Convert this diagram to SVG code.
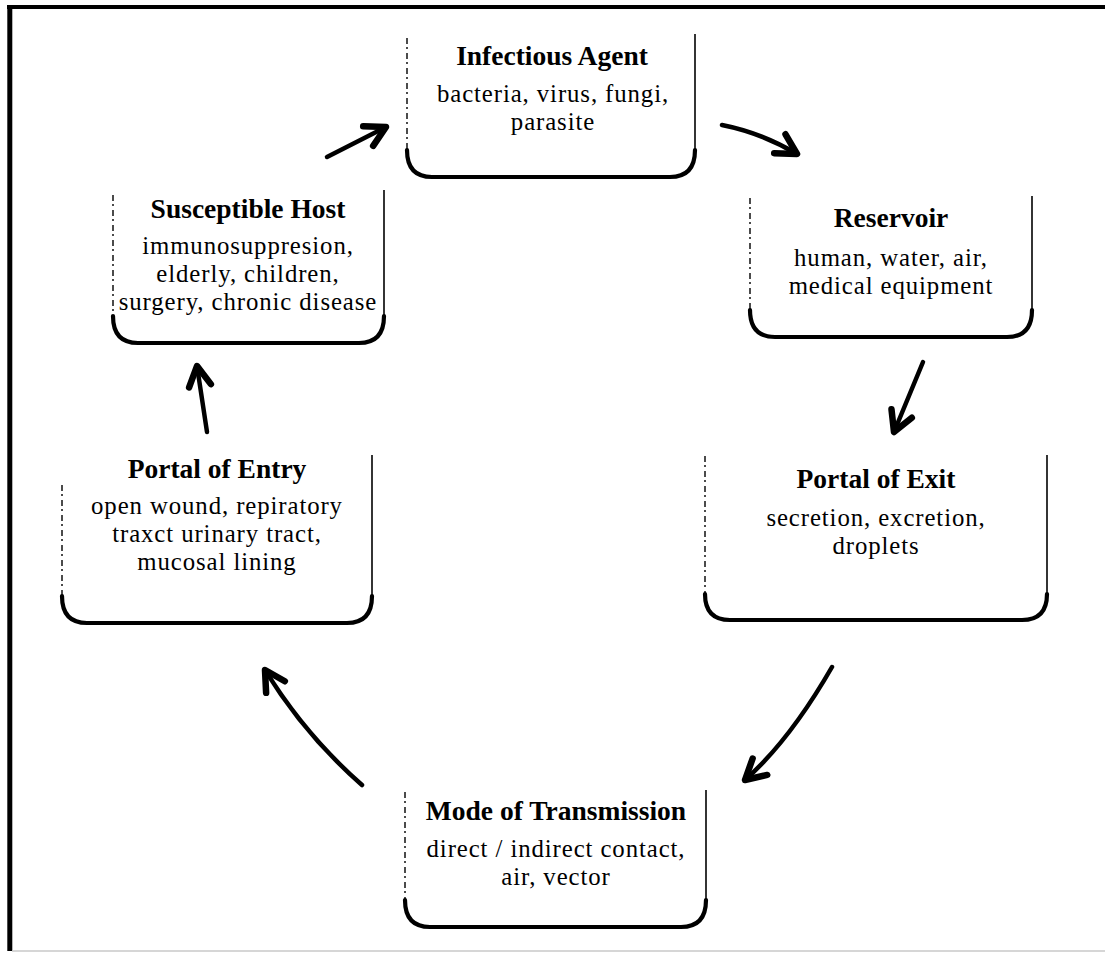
<svg xmlns="http://www.w3.org/2000/svg" width="1105" height="953" viewBox="0 0 1105 953">
  <style>
    .title { font-family: "Liberation Serif", "Times New Roman", serif; font-weight: bold; font-size: 27.5px; fill: #000; text-anchor: middle; }
    .body { font-family: "Liberation Serif", "Times New Roman", serif; font-size: 24.8px; letter-spacing: 0.9px; fill: #000; text-anchor: middle; }
    .edge-l { fill: none; stroke: #111; stroke-width: 1.5; stroke-dasharray: 6 3 2 4; }
    .edge-r { fill: none; stroke: #111; stroke-width: 1.7; }
    .base { fill: none; stroke: #000; stroke-width: 4.2; stroke-linecap: round; }
    .arrow { fill: none; stroke: #000; stroke-width: 4.5; stroke-linecap: round; marker-end: url(#head); }
  </style>
  <defs>
    <marker id="head" markerUnits="userSpaceOnUse" markerWidth="40" markerHeight="40" viewBox="-30 -20 40 40" refX="0" refY="0" orient="auto">
      <path d="M-20,-11 L0,0 L-20,11" fill="none" stroke="#000" stroke-width="6.5" stroke-linejoin="round" stroke-linecap="round"/>
      <path d="M-9,-4 L0,0 L-9,4 Z" fill="#000"/>
    </marker>
  </defs>

  <rect width="1105" height="953" fill="#fff"/>

  <!-- outer frame -->
  <g id="frame">
    <line x1="7" y1="7" x2="1105" y2="7" stroke="#000" stroke-width="4"/>
    <line x1="9.8" y1="5" x2="9.8" y2="951" stroke="#000" stroke-width="5"/>
    <line x1="12" y1="951" x2="1105" y2="951" stroke="#c8c8c8" stroke-width="1.5"/>
  </g>

  <!-- Infectious Agent -->
  <g id="infectious-agent">
    <line class="edge-l" x1="407" y1="38" x2="407" y2="152"/>
    <line class="edge-r" x1="695" y1="34" x2="695" y2="152"/>
    <path class="base" d="M407,150 Q407,177 432,177 H670 Q695,177 695,150"/>
    <text class="title" x="552" y="65">Infectious Agent</text>
    <text class="body" x="553" y="102">bacteria, virus, fungi,</text>
    <text class="body" x="553" y="130">parasite</text>
  </g>

  <!-- Reservoir -->
  <g id="reservoir">
    <line class="edge-l" x1="750" y1="198" x2="750" y2="312"/>
    <line class="edge-r" x1="1032" y1="196" x2="1032" y2="312"/>
    <path class="base" d="M750,310 Q750,337 775,337 H1007 Q1032,337 1032,310"/>
    <text class="title" x="891" y="227">Reservoir</text>
    <text class="body" x="891" y="266">human, water, air,</text>
    <text class="body" x="891" y="294">medical equipment</text>
  </g>

  <!-- Portal of Exit -->
  <g id="portal-of-exit">
    <line class="edge-l" x1="705" y1="456" x2="705" y2="596"/>
    <line class="edge-r" x1="1047" y1="455" x2="1047" y2="596"/>
    <path class="base" d="M705,594 Q705,620 730,620 H1022 Q1047,620 1047,594"/>
    <text class="title" x="876" y="488">Portal of Exit</text>
    <text class="body" x="876" y="526">secretion, excretion,</text>
    <text class="body" x="876" y="554">droplets</text>
  </g>

  <!-- Mode of Transmission -->
  <g id="mode-of-transmission">
    <line class="edge-l" x1="405" y1="792" x2="405" y2="902"/>
    <line class="edge-r" x1="706" y1="790" x2="706" y2="902"/>
    <path class="base" d="M405,900 Q405,927 430,927 H681 Q706,927 706,900"/>
    <text class="title" x="556" y="820">Mode of Transmission</text>
    <text class="body" x="556" y="857">direct / indirect contact,</text>
    <text class="body" x="556" y="885">air, vector</text>
  </g>

  <!-- Portal of Entry -->
  <g id="portal-of-entry">
    <line class="edge-l" x1="62" y1="485" x2="62" y2="598"/>
    <line class="edge-r" x1="372" y1="455" x2="372" y2="598"/>
    <path class="base" d="M62,596 Q62,623 87,623 H347 Q372,623 372,596"/>
    <text class="title" x="217" y="478">Portal of Entry</text>
    <text class="body" x="217" y="514">open wound, repiratory</text>
    <text class="body" x="217" y="542">traxct urinary tract,</text>
    <text class="body" x="217" y="570">mucosal lining</text>
  </g>

  <!-- Susceptible Host -->
  <g id="susceptible-host">
    <line class="edge-l" x1="113" y1="195" x2="113" y2="318"/>
    <line class="edge-r" x1="384" y1="190" x2="384" y2="318"/>
    <path class="base" d="M113,316 Q113,343 138,343 H359 Q384,343 384,316"/>
    <text class="title" x="248" y="218">Susceptible Host</text>
    <text class="body" x="248" y="254">immunosuppresion,</text>
    <text class="body" x="248" y="282">elderly, children,</text>
    <text class="body" x="248" y="310">surgery, chronic disease</text>
  </g>

  <!-- cycle connectors -->
  <g id="connectors">
    <path class="arrow" d="M327,157 L386,127"/>
    <path class="arrow" d="M722,125 Q762,133 797,154"/>
    <path class="arrow" d="M923,362 L894,432"/>
    <path class="arrow" d="M832,667 Q790,740 745,780"/>
    <path class="arrow" d="M362,785 Q305,735 265,670"/>
    <path class="arrow" d="M207,432 L197,366"/>
  </g>
</svg>
